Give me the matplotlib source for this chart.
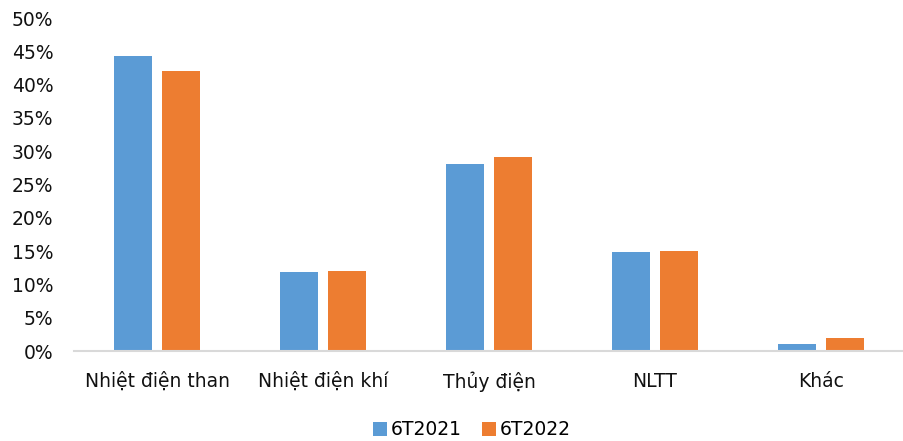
import matplotlib
matplotlib.use("Agg")
import matplotlib.pyplot as plt
import numpy as np
from matplotlib.ticker import FuncFormatter

categories = ["Nhiệt điện than", "Nhiệt điện khí", "Thủy điện", "NLTT", "Khác"]
series_names = ["6T2021", "6T2022"]
values_2021 = [44.3, 11.9, 28.1, 14.8, 1.0]
values_2022 = [42.0, 12.0, 29.1, 15.0, 1.9]
colors = ["#5B9BD5", "#ED7D31"]

plt.rcParams["font.family"] = ["DejaVu Sans"]

fig = plt.figure(figsize=(9.04, 4.41), dpi=100)
ax = fig.add_axes([0.082, 0.204, 0.918, 0.755])

x = np.arange(len(categories))
width = 0.229
offset = 0.145
ax.bar(x - offset, values_2021, width, color=colors[0], label=series_names[0])
ax.bar(x + offset, values_2022, width, color=colors[1], label=series_names[1])

ax.set_xlim(-0.5, len(categories) - 0.5)
ax.set_ylim(0, 50)
ax.set_yticks(np.arange(0, 51, 5))
ax.yaxis.set_major_formatter(FuncFormatter(lambda v, p: f"{v:.0f}%"))
ax.set_xticks(x)
ax.set_xticklabels(categories)

for s in ["top", "right", "left"]:
    ax.spines[s].set_visible(False)
ax.spines["bottom"].set_color("#D9D9D9")
ax.spines["bottom"].set_linewidth(1.5)

ax.tick_params(axis="y", length=0, pad=15, labelsize=13.5, labelcolor="#111111")
ax.tick_params(axis="x", length=0, pad=15, labelsize=13.5, labelcolor="#111111")

fig.legend(loc="center", bbox_to_anchor=(0.522, 0.025), ncol=2, frameon=False,
           fontsize=13.5, handlelength=0.75, handleheight=0.75, handletextpad=0.2,
           columnspacing=1.1)

fig.savefig("out.png", dpi=100)
